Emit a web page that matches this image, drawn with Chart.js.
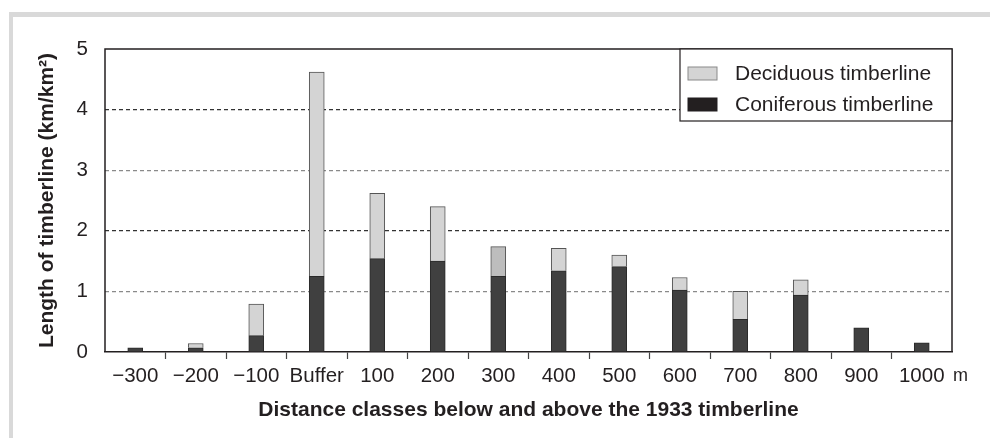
<!DOCTYPE html>
<html>
<head>
<meta charset="utf-8">
<script src="https://cdn.jsdelivr.net/npm/chart.js@4/dist/chart.umd.min.js"></script>
<style>
  html, body { margin: 0; padding: 0; background: #fff; }
  #wrap { width: 990px; height: 438px; }
</style>
</head>
<body>
<div id="wrap"><canvas id="chart" width="990" height="438"></canvas></div>
<script>
const categories = ['\u2212300', '\u2212200', '\u2212100', 'Buffer', '100', '200', '300', '400', '500', '600', '700', '800', '900', '1000']
const coniferous = [0.07, 0.07, 0.27, 1.25, 1.54, 1.50, 1.25, 1.34, 1.41, 1.02, 0.54, 0.94, 0.40, 0.15]
const deciduous = [0, 0.07, 0.52, 3.37, 1.08, 0.90, 0.49, 0.37, 0.19, 0.21, 0.46, 0.25, 0, 0]
const yTicks = [0, 1, 2, 3, 4, 5]

const FONT = 'Liberation Sans, Arial, Helvetica, sans-serif'
const TEXT = '#231f20'

// light gray frame round the figure, plot box, legend and unit label
const framePlugin = {
  id: 'frame',
  beforeDraw(chart) {
    const ctx = chart.ctx
    ctx.save()
    ctx.fillStyle = '#fff'
    ctx.fillRect(0, 0, chart.width, chart.height)
    ctx.fillStyle = '#d9d9d9'
    ctx.fillRect(9, 12, chart.width - 9, 5)
    ctx.fillRect(9, 12, 4, chart.height - 12)
    ctx.restore()
  },
  beforeDatasetsDraw(chart) {
    const { ctx, chartArea: a } = chart
    ctx.save()
    ctx.setLineDash([])
    ctx.strokeStyle = '#231f20'
    ctx.lineWidth = 1.5
    ctx.beginPath()
    ctx.moveTo(a.left, a.bottom)
    ctx.lineTo(a.left, a.top)
    ctx.lineTo(a.right, a.top)
    ctx.lineTo(a.right, a.bottom)
    ctx.stroke()
    ctx.restore()
  },
  afterDraw(chart) {
    const { ctx, chartArea: a } = chart
    ctx.save()
    ctx.fillStyle = TEXT
    ctx.font = '18px ' + FONT
    ctx.textBaseline = 'middle'
    ctx.fillText('m', a.right + 1, 376)

    const w = 272, h = 72
    const x0 = a.right - w, y0 = a.top
    ctx.fillStyle = '#fff'
    ctx.fillRect(x0, y0, w, h)
    ctx.strokeStyle = '#231f20'
    ctx.lineWidth = 1.2
    ctx.strokeRect(x0, y0, w, h)
    const items = [
      { label: chart.data.datasets[1].label, fill: '#d4d4d4', stroke: '#8a8a8a' },
      { label: chart.data.datasets[0].label, fill: '#231f20', stroke: '#231f20' }
    ]
    ctx.font = '21px ' + FONT
    items.forEach((it, i) => {
      const y = y0 + 25 + i * 31
      ctx.fillStyle = it.fill
      ctx.fillRect(x0 + 8, y - 7, 29, 13)
      ctx.strokeStyle = it.stroke
      ctx.lineWidth = 1
      ctx.strokeRect(x0 + 8, y - 7, 29, 13)
      ctx.fillStyle = TEXT
      ctx.fillText(it.label, x0 + 55, y)
    })
    ctx.restore()
  }
}

const ctx = document.getElementById('chart')
new Chart(ctx, {
  type: 'bar',
  data: {
    labels: categories,
    datasets: [
      {
        label: 'Coniferous timberline',
        data: coniferous,
        backgroundColor: '#404040',
        borderColor: '#2a2a2a',
        borderWidth: 1,
        barThickness: 15
      },
      {
        label: 'Deciduous timberline',
        data: deciduous,
        backgroundColor: categories.map((c) => (c === '300' ? '#bdbdbd' : '#d4d4d4')),
        borderColor: '#555',
        borderWidth: 1,
        barThickness: 15
      }
    ]
  },
  plugins: [framePlugin],
  options: {
    responsive: false,
    animation: false,
    layout: { padding: { left: 0, top: 49, right: 38, bottom: 0 } },
    plugins: {
      legend: { display: false },
      tooltip: { enabled: false }
    },
    scales: {
      x: {
        stacked: true,
        afterFit: (scale) => { scale.height = 86 },
        grid: {
          offset: true,
          drawOnChartArea: false,
          tickLength: 7,
          tickWidth: 1.2,
          tickColor: (c) => (c.index === 0 || c.index === undefined ? 'rgba(0,0,0,0)' : '#444')
        },
        border: { color: '#231f20', width: 1.5 },
        ticks: {
          color: TEXT,
          padding: 5,
          maxRotation: 0,
          autoSkip: false,
          font: { family: FONT, size: 20.5 }
        },
        title: {
          display: true,
          text: 'Distance classes below and above the 1933 timberline',
          color: TEXT,
          padding: { top: 0, bottom: 15 },
          font: { family: FONT, size: 21, weight: 'bold' }
        }
      },
      y: {
        stacked: true,
        min: 0,
        max: 5,
        afterFit: (scale) => { scale.width = 105 },
        afterBuildTicks: (scale) => { scale.ticks = yTicks.map((v) => ({ value: v })) },
        grid: {
          drawTicks: false,
          lineWidth: 1.2,
          color: (c) => {
            const v = c.tick ? c.tick.value : 0
            if (v === 0 || v === 5) return 'rgba(0,0,0,0)'
            return v % 2 === 0 ? '#333' : '#8a8a8a'
          }
        },
        border: { display: false, dash: [4, 3] },
        ticks: {
          color: TEXT,
          padding: 17,
          font: { family: FONT, size: 20.5 }
        },
        title: {
          display: true,
          text: 'Length of timberline (km/km\u00b2)',
          color: TEXT,
          padding: { top: 35, bottom: 0 },
          font: { family: FONT, size: 21, weight: 'bold' }
        }
      }
    }
  }
})
</script>
</body>
</html>
